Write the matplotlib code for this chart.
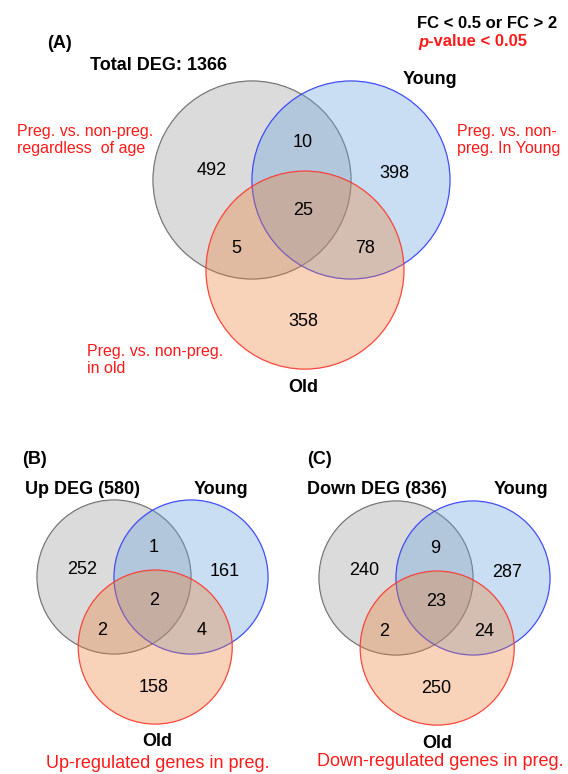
import matplotlib
matplotlib.use("Agg")
import matplotlib.pyplot as plt
from matplotlib.patches import Circle

plt.rcParams['font.family'] = ['Liberation Sans', 'DejaVu Sans']

# -----------------------------
# DATA
# -----------------------------
# region order: only set1, set1&2, only set2, all three, set1&3, set2&3, only set3
counts_total = [492, 10, 398, 25, 5, 78, 358]
counts_up = [252, 1, 161, 2, 2, 4, 158]
counts_down = [240, 9, 287, 23, 2, 24, 250]

panel_tags = ["(A)", "(B)", "(C)"]
set1_titles = ["Total DEG: 1366", "Up DEG (580)", "Down DEG (836)"]
set2_name = "Young"
set3_name = "Old"
panel_captions = ["Up-regulated genes in preg.", "Down-regulated genes in preg."]

criteria_line1 = "FC < 0.5 or FC > 2"
criteria_line2 = "-value < 0.05"

note_all = "Preg. vs. non-preg.\nregardless  of age"
note_young = "Preg. vs. non-\npreg. In Young"
note_old = "Preg. vs. non-preg.\nin old"

# -----------------------------
# STYLE
# -----------------------------
FACE = [(0.69, 0.69, 0.69, 0.45), (0.40, 0.63, 0.87, 0.35), (0.92, 0.50, 0.22, 0.35)]
EDGE = [(0.25, 0.25, 0.25, 0.8), (0.15, 0.15, 1.0, 0.9), (1.0, 0.15, 0.15, 0.9)]
RED = "#ff1a1a"

# region label offsets, in units of the radius, relative to the first circle centre
OFFSETS = [(-0.41, -0.10), (0.51, -0.38), (1.44, -0.07), (0.52, 0.31),
           (-0.16, 0.69), (1.14, 0.69), (0.52, 1.43)]


def draw_venn(ax, cx, cy, r, counts, fs=13):
    centres = [(cx, cy), (cx + 1.0 * r, cy), (cx + 0.535 * r, cy + 0.91 * r)]
    # each circle drawn with its outline, so later fills tint earlier outlines
    for i, ((x, y), fc, ec) in enumerate(zip(centres, FACE, EDGE)):
        ax.add_patch(Circle((x, y), r, facecolor="none", edgecolor=ec, linewidth=0.9, zorder=1 + 2 * i))
        ax.add_patch(Circle((x, y), r, facecolor=fc, edgecolor="none", zorder=2 + 2 * i))
    for n, (ox, oy) in zip(counts, OFFSETS):
        ax.text(cx + ox * r, cy + oy * r, str(n), fontsize=fs, ha="center", va="center", zorder=10)


fig = plt.figure(figsize=(5.68, 7.74), dpi=100)
ax = fig.add_axes([0, 0, 1, 1])
ax.set_xlim(0, 568)
ax.set_ylim(774, 0)
ax.axis("off")

# -----------------------------
# PANEL A
# -----------------------------
draw_venn(ax, 252, 180, 99, counts_total)
ax.text(47, 43, panel_tags[0], fontsize=13, fontweight="bold", va="center")
ax.text(90, 65, set1_titles[0], fontsize=13, fontweight="bold", va="center")
ax.text(430, 80, set2_name, fontsize=13, fontweight="bold", va="center", ha="center")
ax.text(303, 388, set3_name, fontsize=13, fontweight="bold", va="center", ha="center")

ax.text(417, 23, criteria_line1, fontsize=12, fontweight="bold", va="center")
ax.text(418, 42, "p", fontsize=12, fontweight="bold", fontstyle="italic", color=RED, va="center")
ax.text(428, 42, criteria_line2, fontsize=12, fontweight="bold", color=RED, va="center")

ax.text(17, 140, note_all, fontsize=11.5, color=RED, va="center", linespacing=1.2)
ax.text(457, 140, note_young, fontsize=11.5, color=RED, va="center", linespacing=1.2)
ax.text(87, 360, note_old, fontsize=11.5, color=RED, va="center", linespacing=1.2)

# -----------------------------
# PANEL B
# -----------------------------
draw_venn(ax, 114, 577, 77, counts_up)
ax.text(22, 459, panel_tags[1], fontsize=13, fontweight="bold", va="center")
ax.text(25, 489, set1_titles[1], fontsize=13, fontweight="bold", va="center")
ax.text(221, 489, set2_name, fontsize=13, fontweight="bold", va="center", ha="center")
ax.text(157, 742, set3_name, fontsize=13, fontweight="bold", va="center", ha="center")
ax.text(158, 763, panel_captions[0], fontsize=13, color=RED, va="center", ha="center")

# -----------------------------
# PANEL C
# -----------------------------
draw_venn(ax, 396, 578, 77, counts_down)
ax.text(307, 459, panel_tags[2], fontsize=13, fontweight="bold", va="center")
ax.text(307, 489, set1_titles[2], fontsize=13, fontweight="bold", va="center")
ax.text(521, 489, set2_name, fontsize=13, fontweight="bold", va="center", ha="center")
ax.text(437, 743, set3_name, fontsize=13, fontweight="bold", va="center", ha="center")
ax.text(440, 762, panel_captions[1], fontsize=13, color=RED, va="center", ha="center")

fig.savefig("out.png", dpi=100)
